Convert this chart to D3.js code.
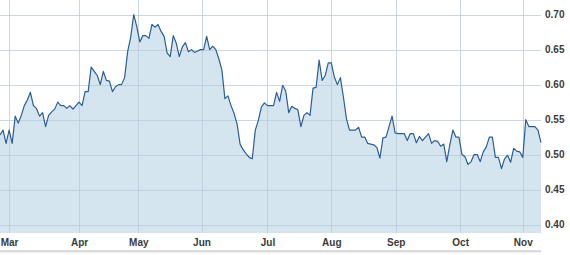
<!DOCTYPE html>
<meta charset="utf-8">
<style>
  body, html { margin:0; padding:0; background:#fff; }
  svg { display:block; }
  .axis text { font: bold 10px "Liberation Sans", Arial, sans-serif; fill:#3a3a3a; }
</style>
<body>
<svg id="chart" width="570" height="255"></svg>
<script src="https://d3js.org/d3.v7.min.js"></script>
<script>

// trading day number and closing price
var days = [0,1,2,3,4,5,6,7,8,9,10,11,12,13,14,15,16,17,18,19,20,21,22,23,24,25,26,27,28,29,
  30,31,32,33,34,35,36,37,38,39,40,41,42,43,44,45,46,47,48,49,50,51,52,53,54,55,56,57,58,59,
  60,61,62,63,64,65,66,67,68,69,70,71,72,73,74,75,76,77,78,79,80,81,82,83,84,85,86,87,88,89,
  90,91,92,93,94,95,96,97,98,99,100,101,102,103,104,105,106,107,108,109,110,111,112,113,114,115,116,117,118,119,
  120,121,122,123,124,125,126,127,128,129,130,131,132,133,134,135,136,137,138,139,140,141,142,143,144,145,146,147,148,149,
  150,151,152,153,154,155,156,157,158,159,160,161,162,163,164,165,166,167,168,169,170,171,172,173,174,175,176,177,178];

var prices = [0.528,0.535,0.516,0.535,0.516,0.555,0.545,0.556,0.570,0.578,
  0.589,0.570,0.566,0.555,0.560,0.540,0.556,0.561,0.565,0.575,
  0.570,0.570,0.566,0.570,0.565,0.570,0.575,0.570,0.590,0.590,
  0.625,0.619,0.613,0.600,0.619,0.606,0.605,0.590,0.597,0.600,
  0.600,0.610,0.647,0.668,0.700,0.683,0.661,0.670,0.670,0.666,
  0.686,0.682,0.686,0.676,0.669,0.645,0.640,0.670,0.659,0.640,
  0.654,0.660,0.647,0.650,0.646,0.648,0.650,0.650,0.669,0.650,
  0.655,0.650,0.637,0.621,0.580,0.584,0.570,0.559,0.544,0.515,
  0.507,0.501,0.496,0.494,0.535,0.549,0.568,0.574,0.570,0.570,
  0.570,0.589,0.576,0.599,0.591,0.560,0.569,0.566,0.564,0.540,
  0.556,0.560,0.556,0.595,0.596,0.635,0.606,0.613,0.631,0.631,
  0.611,0.600,0.610,0.582,0.551,0.535,0.535,0.535,0.539,0.525,
  0.525,0.516,0.515,0.514,0.510,0.495,0.524,0.525,0.540,0.555,
  0.531,0.530,0.530,0.530,0.520,0.530,0.530,0.517,0.526,0.520,
  0.525,0.530,0.516,0.520,0.519,0.512,0.515,0.490,0.514,0.535,
  0.525,0.525,0.500,0.497,0.486,0.490,0.500,0.500,0.490,0.504,
  0.511,0.525,0.525,0.496,0.496,0.480,0.494,0.499,0.489,0.509,
  0.505,0.504,0.496,0.550,0.540,0.540,0.540,0.535,0.517];

var monthLabels = ["Mar","Apr","May","Jun","Jul","Aug","Sep","Oct","Nov"];
var monthDays = [3, 26, 45.5, 66.3, 88, 109, 130.2, 151.4, 172];
var priceTicks = [0.40, 0.45, 0.50, 0.55, 0.60, 0.65, 0.70];

var data = days.map(function(d, i) { return {day: d, price: prices[i]}; });

var width = 541, height = 233;
var svg = d3.select("#chart");

var x = d3.scaleLinear().domain([0, 178]).range([0, width]);
var y = d3.scaleLinear().domain([0.388, 0.7209]).range([height, 0]);

var g = svg.append("g");

// area fill
g.append("path")
    .datum(data)
    .attr("fill", "#d5e5f0")
    .attr("d", d3.area()
        .x(function(d) { return x(d.day); })
        .y0(height)
        .y1(function(d) { return y(d.price); }));

// grid
g.append("g")
    .selectAll("line")
    .data(priceTicks)
    .enter().append("line")
    .attr("x1", 0).attr("x2", width)
    .attr("y1", function(d) { return Math.round(y(d)) + 0.5; })
    .attr("y2", function(d) { return Math.round(y(d)) + 0.5; })
    .attr("stroke", "#b5c9d8").attr("stroke-opacity", 0.75);

g.append("g")
    .selectAll("line")
    .data(monthDays)
    .enter().append("line")
    .attr("y1", 0).attr("y2", height)
    .attr("x1", function(d) { return Math.round(x(d)) + 0.5; })
    .attr("x2", function(d) { return Math.round(x(d)) + 0.5; })
    .attr("stroke", "#b5c9d8").attr("stroke-opacity", 0.75);

// price line
g.append("path")
    .datum(data)
    .attr("fill", "none")
    .attr("stroke", "#2b5d94")
    .attr("stroke-width", 1.2)
    .attr("stroke-linejoin", "round")
    .attr("d", d3.line()
        .x(function(d) { return x(d.day); })
        .y(function(d) { return y(d.price); }));

// right axis
var yAxis = d3.axisRight(y)
    .tickValues(priceTicks)
    .tickSize(0)
    .tickPadding(4)
    .tickFormat(d3.format(".2f"));

svg.append("g")
    .attr("class", "axis")
    .attr("transform", "translate(" + width + ",0)")
    .call(yAxis)
    .call(function(s) { s.select(".domain").remove(); });

// bottom axis
var xAxis = d3.axisBottom(x)
    .tickValues(monthDays)
    .tickSize(0)
    .tickPadding(6)
    .tickFormat(function(d, i) { return monthLabels[i]; });

svg.append("g")
    .attr("class", "axis")
    .attr("transform", "translate(0," + height + ")")
    .call(xAxis)
    .call(function(s) { s.select(".domain").remove(); });

// bottom strip
svg.append("rect")
    .attr("x", 0).attr("y", 250)
    .attr("width", width).attr("height", 2.5)
    .attr("fill", "#dcdcdc");

</script>
</body>
